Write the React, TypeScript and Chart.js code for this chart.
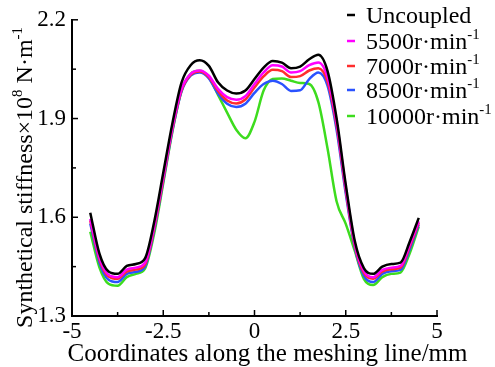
import React, { useEffect, useRef } from "react";
import { Chart, registerables } from "chart.js";

Chart.register(...registerables);

const FONT = '"Liberation Serif", "Times New Roman", serif';

// meshing-line coordinates (mm)
const xValues = [
  -4.5, -4.25, -4, -3.75, -3.5, -3.25, -3, -2.75, -2.5, -2.25, -2, -1.75, -1.5,
  -1.25, -1, -0.75, -0.5, -0.25, 0, 0.25, 0.5, 0.75, 1, 1.25, 1.5, 1.75, 2,
  2.25, 2.5, 2.75, 3, 3.25, 3.5, 3.75, 4, 4.25, 4.5,
];

const uncoupled = [
  1.614, 1.49, 1.435, 1.428, 1.452, 1.458, 1.475, 1.585, 1.735, 1.885, 2.009,
  2.062, 2.077, 2.06, 2.01, 1.985, 1.976, 1.985, 2.02, 2.055, 2.075, 2.07,
  2.053, 2.058, 2.08, 2.094, 2.045, 1.9, 1.7, 1.527, 1.445, 1.428, 1.45, 1.458,
  1.462, 1.525, 1.598,
];
const r5500 = [
  1.595, 1.478, 1.425, 1.418, 1.441, 1.447, 1.462, 1.572, 1.722, 1.873, 1.99,
  2.036, 2.046, 2.03, 1.99, 1.965, 1.957, 1.968, 2.005, 2.04, 2.062, 2.058,
  2.04, 2.044, 2.062, 2.07, 2.026, 1.888, 1.69, 1.518, 1.436, 1.418, 1.44,
  1.447, 1.452, 1.516, 1.588,
];
const r7000 = [
  1.59, 1.472, 1.42, 1.413, 1.435, 1.441, 1.456, 1.565, 1.715, 1.868, 1.986,
  2.033, 2.043, 2.026, 1.984, 1.955, 1.946, 1.958, 1.994, 2.028, 2.048, 2.044,
  2.026, 2.029, 2.046, 2.053, 2.012, 1.878, 1.682, 1.512, 1.43, 1.413, 1.435,
  1.442, 1.447, 1.51, 1.583,
];
const r8500 = [
  1.581, 1.463, 1.41, 1.403, 1.428, 1.434, 1.45, 1.56, 1.71, 1.863, 1.982,
  2.03, 2.04, 2.022, 1.976, 1.945, 1.935, 1.945, 1.978, 2.005, 2.015, 2.005,
  1.984, 1.986, 2.02, 2.04, 2.0, 1.865, 1.672, 1.506, 1.422, 1.403, 1.428,
  1.436, 1.44, 1.502, 1.578,
];
const r10000 = [
  1.556, 1.448, 1.398, 1.392, 1.418, 1.428, 1.444, 1.55, 1.703, 1.86, 1.984,
  2.036, 2.045, 2.025, 1.972, 1.918, 1.866, 1.84, 1.89, 1.985, 2.02, 2.022,
  2.015, 2.008, 2.005, 1.95, 1.81, 1.648, 1.58, 1.497, 1.412, 1.394, 1.418,
  1.428, 1.432, 1.49, 1.572,
];

const seriesLabels = [
  "Uncoupled",
  "5500r·min⁻¹",
  "7000r·min⁻¹",
  "8500r·min⁻¹",
  "10000r·min⁻¹",
];
const seriesColors = ["#000000", "#ff00ff", "#ff2d2d", "#2a52ff", "#3ddc1e"];
const seriesValues = [uncoupled, r5500, r7000, r8500, r10000];

const xTicks = [-5, -2.5, 0, 2.5, 5];
const xMinorTicks = [-3.75, -1.25, 1.25, 3.75];
const yTicks = [1.3, 1.6, 1.9, 2.2];
const yMinorTicks = [1.45, 1.75, 2.05];

const xTitle = "Coordinates along the meshing line/mm";
const yTitle = "Synthetical stiffness×10⁸ N·m⁻¹";

const SUP_MAP: Record<string, string> = {
  "⁰": "0", "¹": "1", "²": "2", "³": "3", "⁴": "4", "⁵": "5", "⁶": "6",
  "⁷": "7", "⁸": "8", "⁹": "9", "⁻": "-",
};

type Part = { t: string; sup: boolean };
function parseRich(s: string): Part[] {
  const parts: Part[] = [];
  for (const ch of s) {
    const sup = ch in SUP_MAP;
    const t = sup ? SUP_MAP[ch] : ch;
    const last = parts[parts.length - 1];
    if (last && last.sup === sup) last.t += t;
    else parts.push({ t, sup });
  }
  return parts;
}
function measureRich(ctx: CanvasRenderingContext2D, parts: Part[], size: number) {
  let w = 0;
  for (const p of parts) {
    ctx.font = `${p.sup ? size * 0.62 : size}px ${FONT}`;
    w += ctx.measureText(p.t).width;
  }
  return w;
}
function drawRich(ctx: CanvasRenderingContext2D, parts: Part[], x: number, y: number, size: number) {
  let cx = x;
  ctx.textAlign = "left";
  ctx.textBaseline = "alphabetic";
  for (const p of parts) {
    const s = p.sup ? size * 0.62 : size;
    ctx.font = `${s}px ${FONT}`;
    ctx.fillText(p.t, cx, p.sup ? y - size * 0.4 : y);
    cx += ctx.measureText(p.t).width;
  }
}

const decorPlugin = {
  id: "decor",
  afterDraw(chart: any) {
    const ctx: CanvasRenderingContext2D = chart.ctx;
    const xs = chart.scales.x;
    const ys = chart.scales.y;
    const area = chart.chartArea;
    ctx.save();
    ctx.strokeStyle = "#000";
    ctx.fillStyle = "#000";
    ctx.lineWidth = 1.5;
    // inward ticks
    const tickX = (v: number, len: number) => {
      const px = xs.getPixelForValue(v);
      ctx.beginPath();
      ctx.moveTo(px, area.bottom);
      ctx.lineTo(px, area.bottom - len);
      ctx.stroke();
    };
    const tickY = (v: number, len: number) => {
      const py = ys.getPixelForValue(v);
      ctx.beginPath();
      ctx.moveTo(area.left, py);
      ctx.lineTo(area.left + len, py);
      ctx.stroke();
    };
    xTicks.forEach((v) => tickX(v, 6));
    xMinorTicks.forEach((v) => tickX(v, 4));
    yTicks.forEach((v) => tickY(v, 6));
    yMinorTicks.forEach((v) => tickY(v, 4));

    // x title
    const xp = parseRich(xTitle);
    const xw = measureRich(ctx, xp, 25);
    drawRich(ctx, xp, 267.5 - xw / 2, 361, 25);

    // y title (rotated)
    const yp = parseRich(yTitle);
    const yw = measureRich(ctx, yp, 24);
    ctx.save();
    ctx.translate(32, 177.5 + yw / 2);
    ctx.rotate(-Math.PI / 2);
    drawRich(ctx, yp, 0, 0, 24);
    ctx.restore();

    // legend
    const rowCenters = [15, 41, 66, 90, 116];
    chart.data.datasets.forEach((ds: any, i: number) => {
      const cy = rowCenters[i];
      ctx.strokeStyle = ds.borderColor;
      ctx.lineWidth = 2.5;
      ctx.beginPath();
      ctx.moveTo(347, cy);
      ctx.lineTo(355, cy);
      ctx.stroke();
      ctx.fillStyle = "#000";
      drawRich(ctx, parseRich(ds.label), 366, cy + 8, 24);
    });
    ctx.restore();
  },
};

export default function App() {
  const canvasRef = useRef<HTMLCanvasElement | null>(null);

  useEffect(() => {
    document.body.style.margin = "0";
    const canvas = canvasRef.current;
    if (!canvas) return;
    const datasets = seriesValues.map((vals, i) => ({
      label: seriesLabels[i],
      data: xValues.map((x, j) => ({ x, y: vals[j] })),
      borderColor: seriesColors[i],
      backgroundColor: seriesColors[i],
      borderWidth: 2.5,
      pointRadius: 0,
      cubicInterpolationMode: "monotone" as const,
      fill: false,
    }));
    const chart = new Chart(canvas, {
      type: "line",
      data: { datasets },
      options: {
        animation: false,
        responsive: false,
        devicePixelRatio: 1,
        layout: { padding: { left: 0, top: 14, right: 58, bottom: 0 } },
        plugins: {
          legend: { display: false },
          tooltip: { enabled: false },
          title: { display: false },
        },
        scales: {
          x: {
            type: "linear",
            min: -5,
            max: 5,
            afterFit: (s: any) => {
              s.height = 51;
            },
            afterBuildTicks: (s: any) => {
              s.ticks = xTicks.map((v) => ({ value: v }));
            },
            ticks: {
              padding: 2,
              color: "#000",
              font: { family: FONT, size: 23 },
              maxRotation: 0,
              autoSkip: false,
              callback: (v: any) => String(v),
            },
            grid: { display: false, drawTicks: false },
            border: { display: true, color: "#000", width: 2 },
          },
          y: {
            type: "linear",
            min: 1.3,
            max: 2.2,
            afterFit: (s: any) => {
              s.width = 72;
            },
            afterBuildTicks: (s: any) => {
              s.ticks = yTicks.map((v) => ({ value: v }));
            },
            ticks: {
              padding: 6,
              color: "#000",
              font: { family: FONT, size: 23 },
              autoSkip: false,
              callback: (v: any) => Number(v).toFixed(1),
            },
            grid: { display: false, drawTicks: false },
            border: { display: true, color: "#000", width: 2 },
          },
        },
      },
      plugins: [decorPlugin],
    });
    return () => chart.destroy();
  }, []);

  return (
    <div style={{ width: 495, height: 367, background: "#fff" }}>
      <canvas ref={canvasRef} width={495} height={367} />
    </div>
  );
}
